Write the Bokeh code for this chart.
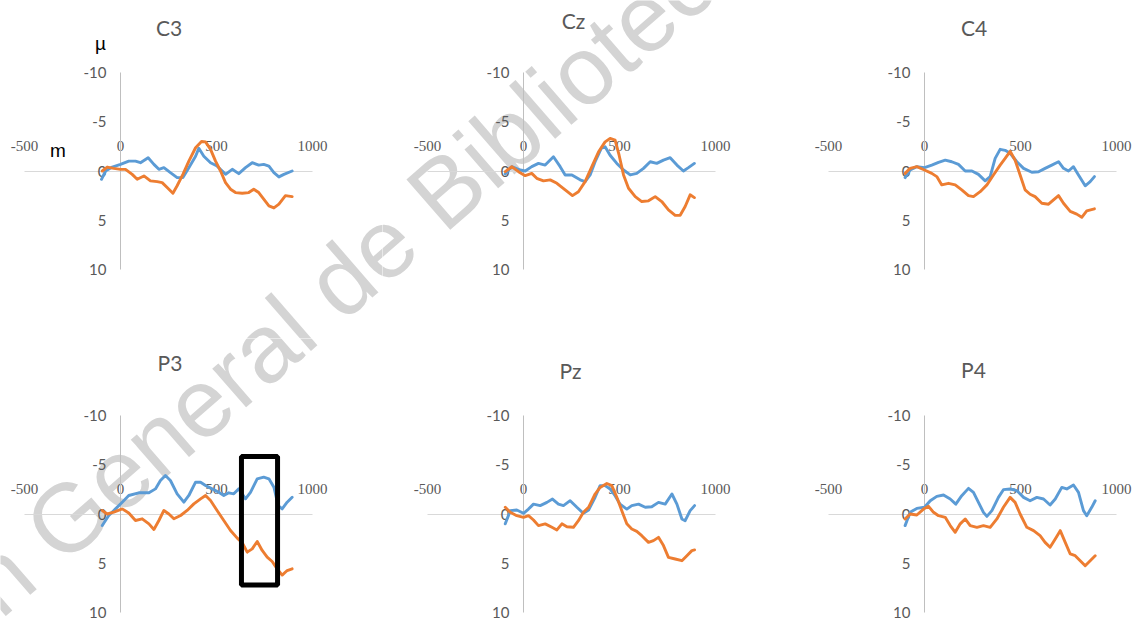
import math
from bokeh.plotting import figure
from bokeh.layouts import column, row
from bokeh.models import Range1d, FixedTicker, Label, PrintfTickFormatter
from bokeh.embed import file_html
from bokeh.resources import INLINE

# ---------------- data ----------------
panel_names = ["C3", "Cz", "C4", "P3", "Pz", "P4"]
x_ticks = [-500, 0, 500, 1000]
y_ticks = [-10, -5, 0, 5, 10]

c3_blue_t = [-99, -78, -43, 0, 43, 78, 104, 144, 174, 200, 226, 260, 295, 325, 356, 391, 408, 434, 469, 503, 530, 547, 582, 616, 651, 686, 720, 746, 773, 799, 825, 851, 894]
c3_blue_v = [0.84, 0, -0.4, -0.67, -1.0, -1.0, -0.84, -1.35, -0.67, -0.17, -0.34, 0.17, 0.67, 0.67, -0.34, -1.5, -2.3, -1.5, -0.84, -0.5, 0, 0.34, -0.17, 0.27, -0.34, -0.84, -0.6, -0.67, -0.5, 0.17, 0.6, 0.34, 0.0]
c3_orange_t = [-95, -69, -35, 0, 26, 61, 87, 122, 156, 191, 217, 243, 273, 295, 325, 356, 391, 422, 443, 469, 495, 521, 547, 573, 599, 634, 668, 694, 720, 746, 773, 799, 825, 859, 894]
c3_orange_v = [0, -0.4, -0.27, -0.17, -0.17, 0.34, 0.84, 0.5, 1.0, 1.08, 1.18, 1.68, 2.26, 1.5, 0.34, -1.0, -2.36, -3.0, -2.96, -2.2, -1.0, 0, 1.18, 1.85, 2.19, 2.26, 2.19, 1.85, 2.19, 2.86, 3.54, 3.75, 3.37, 2.5, 2.6]

cz_blue_t = [-95, -61, -17, 9, 43, 78, 113, 156, 191, 217, 252, 295, 321, 347, 373, 405, 425, 451, 486, 521, 556, 590, 625, 660, 694, 729, 764, 799, 833, 859, 890]
cz_blue_v = [0.3, -0.44, -0.1, 0, -0.44, -0.77, -0.6, -1.45, -0.44, 0.4, 0.4, 0.9, 1.08, 0.4, -0.94, -2.3, -2.46, -1.6, -0.77, -0.1, 0.4, 0.24, -0.27, -0.94, -0.77, -1.1, -1.35, -0.6, 0, -0.34, -0.77]
cz_orange_t = [-95, -61, -26, 9, 43, 69, 104, 139, 174, 217, 255, 286, 321, 356, 391, 425, 451, 477, 498, 521, 547, 582, 616, 651, 686, 720, 755, 790, 816, 842, 868, 890]
cz_orange_v = [0.07, -0.44, 0.07, 0.47, 0.24, 0.74, 1.0, 0.9, 1.25, 1.92, 2.5, 2.1, 1.08, -0.44, -1.95, -2.96, -3.3, -3.13, -1.6, 0.4, 1.75, 2.6, 3.1, 3.03, 2.6, 3.1, 3.94, 4.5, 4.5, 3.6, 2.42, 2.7]

c4_blue_t = [-101, -75, -40, 0, 38, 73, 108, 142, 177, 212, 247, 281, 316, 342, 368, 394, 420, 446, 481, 516, 559, 594, 628, 663, 698, 724, 750, 776, 802, 837, 863, 885]
c4_blue_v = [0.67, -0.1, -0.44, -0.34, -0.6, -0.88, -1.1, -0.94, -0.67, 0, 0, 0.34, 1.0, 0.57, -1.28, -2.2, -2.1, -1.8, -0.94, -0.27, 0.13, 0.07, -0.27, -0.6, -0.94, -0.27, 0, -0.44, 0.4, 1.5, 1.08, 0.57]
c4_orange_t = [-101, -75, -40, 0, 38, 64, 90, 125, 160, 194, 229, 255, 290, 325, 359, 394, 420, 446, 472, 498, 524, 550, 576, 611, 646, 672, 698, 724, 759, 793, 819, 845, 885]
c4_orange_v = [0.24, -0.27, -0.44, -0.1, 0.24, 0.57, 1.41, 1.25, 1.41, 1.92, 2.5, 2.6, 2.1, 1.41, 0.4, -0.6, -1.28, -2.0, -1.1, 0.4, 1.92, 2.36, 2.6, 3.27, 3.37, 2.93, 2.5, 3.27, 4.1, 4.38, 4.7, 4.04, 3.84]

p3_blue_t = [-95, -61, -26, 9, 43, 95, 148, 182, 208, 234, 260, 295, 330, 356, 391, 417, 443, 477, 512, 538, 564, 590, 616, 651, 677, 712, 746, 773, 799, 821, 842, 868, 894]
p3_blue_v = [1.17, 0.15, -0.52, -1.2, -1.88, -2.15, -2.15, -2.55, -3.4, -3.9, -3.4, -2.05, -1.2, -1.88, -3.23, -3.23, -2.9, -2.55, -2.2, -1.88, -2.15, -2.05, -2.55, -1.54, -2.2, -3.57, -3.74, -3.57, -2.72, -0.86, -0.52, -1.2, -1.7]
p3_orange_t = [-95, -69, -35, 9, 43, 78, 113, 148, 174, 200, 226, 252, 278, 313, 347, 382, 417, 443, 469, 503, 538, 573, 608, 634, 660, 686, 712, 738, 764, 790, 816, 842, 868, 894]
p3_orange_v = [-0.36, 0, -0.19, -0.52, -0.1, 0.66, 0.49, 1.0, 1.57, 0.66, -0.36, 0, 0.49, 0.15, -0.36, -1.03, -1.54, -1.88, -1.37, -0.36, 0.66, 1.67, 2.45, 2.92, 3.87, 3.54, 2.79, 3.7, 4.38, 4.82, 5.57, 6.2, 5.74, 5.57]

pz_blue_t = [-95, -69, -35, 0, 26, 52, 87, 122, 151, 182, 208, 243, 278, 312, 339, 373, 399, 425, 451, 477, 503, 538, 564, 599, 634, 668, 703, 738, 773, 799, 825, 842, 868, 891]
pz_blue_v = [1.0, -0.34, -0.4, -0.07, -0.5, -1.0, -0.85, -1.18, -1.52, -1.0, -0.85, -1.35, -0.68, -0.07, -0.4, -1.7, -2.88, -2.88, -2.54, -1.86, -1.0, -0.5, -0.85, -1.0, -0.68, -0.74, -1.18, -1.0, -2.03, -1.0, 0.5, 0.68, -0.34, -0.85]
pz_orange_t = [-95, -69, -35, 0, 26, 52, 78, 113, 148, 174, 200, 226, 260, 286, 312, 339, 373, 399, 434, 460, 486, 512, 538, 564, 590, 616, 651, 677, 703, 729, 755, 790, 825, 851, 877, 891]
pz_orange_v = [-0.68, -0.17, 0.17, 0.34, 0.17, 0.61, 1.18, 1.0, 1.35, 1.62, 1.0, 1.29, 1.35, 0.68, -0.17, -0.68, -2.03, -2.7, -3.1, -2.88, -1.7, -0.34, 1.0, 1.52, 1.76, 2.2, 2.88, 2.7, 2.37, 3.21, 4.4, 4.57, 4.74, 4.23, 3.72, 3.65]

p4_blue_t = [-101, -75, -40, 0, 30, 64, 99, 134, 163, 194, 229, 255, 281, 307, 325, 351, 385, 411, 446, 481, 516, 550, 585, 620, 654, 681, 715, 741, 776, 802, 828, 845, 871, 889]
p4_blue_v = [1.18, -0.17, -0.57, -0.68, -1.35, -1.79, -1.93, -1.52, -1.0, -1.86, -2.6, -2.2, -1.18, -0.17, 0.24, -0.34, -1.69, -2.47, -2.54, -2.37, -1.69, -1.35, -1.69, -1.52, -0.91, -1.52, -2.7, -2.54, -2.94, -2.2, -0.34, 0.17, -0.68, -1.35]
p4_orange_t = [-101, -75, -40, -5, 21, 47, 73, 108, 134, 160, 186, 212, 238, 273, 307, 342, 377, 411, 446, 472, 498, 533, 568, 602, 628, 654, 681, 707, 733, 759, 785, 811, 837, 863, 889]
p4_orange_v = [0.5, 0, 0.1, -0.5, -0.78, -0.17, 0.17, 0.34, 1.18, 1.86, 1.0, 0.5, 1.18, 1.35, 1.18, 1.35, 0.5, -0.68, -1.69, -1.18, 0, 1.35, 1.69, 2.2, 2.88, 3.38, 2.54, 1.69, 2.88, 4.06, 4.23, 4.74, 5.25, 4.74, 4.23]

highlight_ms = [630, 818]
highlight_uv = [-5.85, 7.2]

watermark_text = "Dirección General de Bibliotecas"

# ---------------- layout / style ----------------
BLUE = "#5B9BD5"
ORANGE = "#ED7D31"
LABEL_GRAY = "#595959"
X_START, X_END = -500, 1000
Y_TOP, Y_BOTTOM = -10, 10
AXIS_W, AXIS_H = 288, 197           # pixel length of the x and y axes
MARGIN = 0                          # observed page offset
COL_W = [382, 383, 382]
ROW_H = [338, 283]
AXIS_LEFT = [24, 427, 828]          # page x of the -500 end of each x axis
AXIS_TOP = [72, 415]                # page y of the -10 end of each y axis
TITLE_POS = {"C3": (168.5, 27), "Cz": (573, 20), "C4": (973.5, 27),
             "P3": (169.5, 362), "Pz": (570, 370), "P4": (973, 369)}

# watermark centre in page pixels
WM_PX, WM_PY = 245, 363
WM_ANGLE = math.radians(41)


def fig_origin(r, c):
    return MARGIN + sum(COL_W[:c]), MARGIN + sum(ROW_H[:r])


def page_to_data(r, c, px, py):
    x = X_START + (px - AXIS_LEFT[c]) / AXIS_W * (X_END - X_START)
    y = Y_TOP + (py - AXIS_TOP[r]) / AXIS_H * (Y_BOTTOM - Y_TOP)
    return x, y


def make_panel(r, c, name, bt, bv, ot, ov):
    w, h = COL_W[c], ROW_H[r]
    fx, fy = fig_origin(r, c)
    x0, y0 = page_to_data(r, c, fx, fy)
    x1, y1 = page_to_data(r, c, fx + w, fy + h)
    p = figure(width=w, height=h,
               x_range=Range1d(x0, x1), y_range=Range1d(y1, y0),
               output_backend="svg", toolbar_location=None,
               x_axis_location="above", y_axis_location="left",
               min_border=0, min_border_left=0, min_border_right=0,
               min_border_top=0, min_border_bottom=0)
    p.outline_line_color = None
    p.xgrid.visible = False
    p.ygrid.visible = False
    p.background_fill_color = "white"
    p.border_fill_color = "white"

    xa = p.xaxis[0]
    xa.fixed_location = 0
    xa.bounds = (X_START, X_END)
    xa.ticker = FixedTicker(ticks=x_ticks)
    xa.formatter = PrintfTickFormatter(format="%d")
    xa.major_tick_in = 0
    xa.major_tick_out = 0
    xa.minor_tick_in = 0
    xa.minor_tick_out = 0
    xa.axis_line_color = "#d9d9d9"
    xa.axis_line_width = 1
    xa.major_label_text_font = "Liberation Serif"
    xa.major_label_text_font_size = "15px"
    xa.major_label_text_color = LABEL_GRAY
    xa.major_label_standoff = 20
    xa.level = "underlay"

    ya = p.yaxis[0]
    ya.fixed_location = 0
    ya.bounds = (Y_TOP, Y_BOTTOM)
    ya.ticker = FixedTicker(ticks=y_ticks)
    ya.formatter = PrintfTickFormatter(format="%d")
    ya.major_tick_in = 0
    ya.major_tick_out = 0
    ya.minor_tick_in = 0
    ya.minor_tick_out = 0
    ya.axis_line_color = "#bfbfbf"
    ya.axis_line_width = 1
    ya.major_label_text_font = "Lato"
    ya.major_label_text_font_size = "15px"
    ya.major_label_text_color = LABEL_GRAY
    ya.major_label_standoff = 14
    ya.level = "underlay"

    wx, wy = page_to_data(r, c, WM_PX, WM_PY)
    p.add_layout(Label(x=wx, y=wy, text=watermark_text, angle=WM_ANGLE,
                       text_align="center", text_baseline="middle",
                       text_font="Liberation Sans", text_font_size="97px",
                       text_color="#d4d4d4", level="image"))

    tx, ty = page_to_data(r, c, *TITLE_POS[name])
    p.add_layout(Label(x=tx, y=ty, text=name, text_align="center",
                       text_baseline="middle", text_font="Lato",
                       text_font_size="21px", text_color=LABEL_GRAY))

    p.line(bt, bv, line_color=BLUE, line_width=2.9, line_join="round", line_cap="round")
    p.line(ot, ov, line_color=ORANGE, line_width=2.9, line_join="round", line_cap="round")
    return p


p_c3 = make_panel(0, 0, "C3", c3_blue_t, c3_blue_v, c3_orange_t, c3_orange_v)
p_cz = make_panel(0, 1, "Cz", cz_blue_t, cz_blue_v, cz_orange_t, cz_orange_v)
p_c4 = make_panel(0, 2, "C4", c4_blue_t, c4_blue_v, c4_orange_t, c4_orange_v)
p_p3 = make_panel(1, 0, "P3", p3_blue_t, p3_blue_v, p3_orange_t, p3_orange_v)
p_pz = make_panel(1, 1, "Pz", pz_blue_t, pz_blue_v, pz_orange_t, pz_orange_v)
p_p4 = make_panel(1, 2, "P4", p4_blue_t, p4_blue_v, p4_orange_t, p4_orange_v)

# highlight box on P3
p_p3.quad(left=[highlight_ms[0]], right=[highlight_ms[1]],
          top=[highlight_uv[0]], bottom=[highlight_uv[1]],
          fill_alpha=0, line_color="black", line_width=5)

# cut-off unit labels on C3
mu_x, mu_y = page_to_data(0, 0, 100, 43)
m_x, m_y = page_to_data(0, 0, 57.5, 150)
p_c3.add_layout(Label(x=mu_x, y=mu_y, text="µ", text_align="center",
                      text_baseline="alphabetic", text_font="Liberation Sans",
                      text_font_size="19px", text_color="black"))
p_c3.add_layout(Label(x=m_x, y=m_y, text="m", text_align="center",
                      text_baseline="alphabetic", text_font="Liberation Sans",
                      text_font_size="19px", text_color="black"))

layout = column(row(p_c3, p_cz, p_c4), row(p_p3, p_pz, p_p4))

with open("out.html", "w") as f:
    f.write(file_html(layout, INLINE))
